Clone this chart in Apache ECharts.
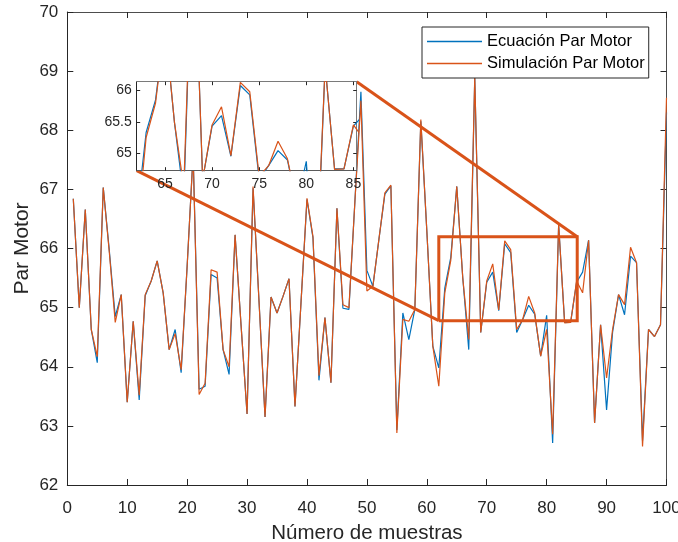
<!DOCTYPE html>
<html>
<head>
<meta charset="utf-8">
<title>Par Motor</title>
<script src="https://cdn.jsdelivr.net/npm/echarts@6/dist/echarts.min.js"></script>
<style>
  html, body { margin: 0; padding: 0; background: #fff; }
  #chart { width: 678px; height: 542px; }
</style>
</head>
<body>
<div id="chart"></div>
<script>
// Torque samples: analytic equation vs. simulation
const ecuacion = [
  66.84, 65.00, 66.66, 64.63, 64.07, 67.03, 65.98, 64.85, 65.22, 63.40,
  64.77, 63.44, 65.20, 65.45, 65.79, 65.25, 64.29, 64.63, 63.90, 65.70,
  67.60, 63.62, 63.67, 65.56, 65.50, 64.29, 63.87, 66.23, 64.70, 63.20,
  67.02, 65.10, 63.15, 65.18, 64.91, 65.19, 65.49, 63.33, 65.08, 66.83,
  66.18, 63.77, 64.83, 63.73, 66.68, 64.99, 64.97, 66.80, 68.65, 65.63,
  65.36, 66.15, 66.92, 67.06, 62.93, 64.91, 64.46, 64.97, 68.15, 66.30,
  64.35, 63.98, 65.33, 65.85, 67.05, 65.50, 64.29, 68.88, 64.58, 65.43,
  65.60, 64.95, 66.08, 65.93, 64.58, 64.80, 65.04, 64.89, 64.18, 64.87,
  62.71, 66.40, 64.75, 64.75, 65.43, 65.60, 66.14, 63.05, 64.71, 63.27,
  64.58, 65.22, 64.88, 65.87, 65.76, 62.75, 64.63, 64.51, 64.71, 68.30
];
const simulacion = [
  66.84, 65.00, 66.66, 64.63, 64.17, 67.03, 65.95, 64.75, 65.22, 63.40,
  64.77, 63.52, 65.22, 65.45, 65.79, 65.25, 64.29, 64.56, 63.95, 65.70,
  67.60, 63.53, 63.72, 65.64, 65.60, 64.29, 64.00, 66.23, 64.70, 63.20,
  67.05, 65.10, 63.15, 65.18, 64.91, 65.19, 65.49, 63.33, 65.08, 66.85,
  66.20, 63.85, 64.83, 63.73, 66.68, 65.05, 65.00, 66.80, 68.50, 65.28,
  65.36, 66.15, 66.94, 67.07, 62.88, 64.80, 64.77, 64.97, 68.18, 66.30,
  64.35, 63.67, 65.25, 65.80, 67.05, 65.50, 64.46, 68.90, 64.58, 65.45,
  65.74, 64.96, 66.13, 65.98, 64.63, 64.80, 65.19, 64.91, 64.18, 64.63,
  62.86, 66.40, 64.74, 64.75, 65.45, 65.25, 66.14, 63.05, 64.71, 63.81,
  64.63, 65.22, 65.05, 66.02, 65.76, 62.65, 64.63, 64.51, 64.71, 68.55
];
const seriesNames = ['Ecuación Par Motor', 'Simulación Par Motor'];

// Main axes range and ticks
const mainX = [0, 100];
const mainXStep = 10;
const mainY = [62, 70];
const mainYStep = 1;

// Detail view range, its tick labels, and the highlighted window
const insetX = [62, 85.35];
const insetY = [64.72, 66.14];
const insetXTicks = [65, 70, 75, 80, 85];
const insetYTicks = [65, 65.5, 66];
const windowX = [62, 85.1];
const windowY = [64.78, 66.2];

const BLUE = '#0072BD';
const ORANGE = '#D95319';
const AXIS = '#262626';
const FONT = '"Liberation Sans", Arial, Helvetica, sans-serif';

const toPairs = arr => arr.map((v, i) => [i + 1, v]);

const chart = echarts.init(document.getElementById('chart'), null, { renderer: 'canvas' });

function mainXAxis(pos, labels) {
  return {
    gridIndex: 0, type: 'value', position: pos,
    min: mainX[0], max: mainX[1], interval: mainXStep,
    axisLine: { onZero: false, lineStyle: { color: pos === 'bottom' ? AXIS : '#4d4d4d', width: 1 } },
    axisTick: { inside: true, length: 6, lineStyle: { color: AXIS } },
    axisLabel: { show: labels, margin: 15, fontSize: 17, color: AXIS, fontFamily: FONT },
    splitLine: { show: false }
  };
}
function mainYAxis(pos, labels) {
  return {
    gridIndex: 0, type: 'value', position: pos,
    min: mainY[0], max: mainY[1], interval: mainYStep,
    axisLine: { onZero: false, lineStyle: { color: pos === 'left' ? AXIS : '#4d4d4d', width: 1 } },
    axisTick: { inside: true, length: 6, lineStyle: { color: AXIS } },
    axisLabel: { show: labels, margin: 9, fontSize: 17, color: AXIS, fontFamily: FONT },
    splitLine: { show: false }
  };
}
function insetXAxis(pos, labels) {
  return {
    gridIndex: 1, type: 'value', position: pos, zlevel: 1,
    min: insetX[0], max: insetX[1],
    axisLine: { onZero: false, lineStyle: { color: pos === 'bottom' ? '#5a5a5a' : '#7a7a7a', width: 1 } },
    axisTick: { inside: true, length: 3.5, customValues: insetXTicks, lineStyle: { color: AXIS } },
    axisLabel: { show: labels, margin: 6, fontSize: 14, color: AXIS, fontFamily: FONT, customValues: insetXTicks },
    splitLine: { show: false }
  };
}
function insetYAxis(pos, labels) {
  return {
    gridIndex: 1, type: 'value', position: pos, zlevel: 1,
    min: insetY[0], max: insetY[1],
    axisLine: { onZero: false, lineStyle: { color: pos === 'left' ? AXIS : '#7a7a7a', width: 1 } },
    axisTick: { inside: true, length: 3.5, customValues: insetYTicks, lineStyle: { color: AXIS } },
    axisLabel: { show: labels, margin: 5, fontSize: 14, color: AXIS, fontFamily: FONT, customValues: insetYTicks },
    splitLine: { show: false }
  };
}

const xMain = mainXAxis('bottom', true);
xMain.name = 'Número de muestras';
xMain.nameLocation = 'middle';
xMain.nameGap = 38;
xMain.nameMoveOverlap = false;
xMain.nameTextStyle = { fontSize: 20.5, color: AXIS, fontFamily: FONT };

const yMain = mainYAxis('left', true);
yMain.name = 'Par Motor';
yMain.nameLocation = 'middle';
yMain.nameGap = 35;
yMain.nameMoveOverlap = false;
yMain.nameTextStyle = { fontSize: 21, color: AXIS, fontFamily: FONT };

function lineSeries(name, data, color, axisIdx, zlevel, z) {
  return {
    name, type: 'line', data: toPairs(data),
    xAxisIndex: axisIdx, yAxisIndex: axisIdx,
    showSymbol: false, symbol: 'none', clip: true,
    lineStyle: { color, width: 1.2 },
    itemStyle: { color },
    zlevel, z, silent: true
  };
}

const option = {
  animation: false,
  backgroundColor: '#fff',
  textStyle: { fontFamily: FONT },
  legend: {
    data: seriesNames,
    orient: 'vertical',
    left: 422, top: 27,
    icon: 'rect',
    itemWidth: 55, itemHeight: 1.3,
    itemGap: 5,
    padding: [6, 4, 6, 5],
    borderColor: AXIS, borderWidth: 1,
    backgroundColor: '#fff',
    textStyle: { fontSize: 16.5, color: '#000', fontFamily: FONT },
    selectedMode: false,
    z: 20
  },
  grid: [
    { left: 67.3, top: 12, width: 599.2, height: 473, outerBoundsMode: 'none' },
    { left: 136.7, top: 81.7, width: 220, height: 89, show: true, backgroundColor: '#fff',
      borderWidth: 0, zlevel: 1, outerBoundsMode: 'none' }
  ],
  xAxis: [xMain, mainXAxis('top', false), insetXAxis('bottom', true), insetXAxis('top', false)],
  yAxis: [yMain, mainYAxis('right', false), insetYAxis('left', true), insetYAxis('right', false)],
  series: [
    lineSeries(seriesNames[0], ecuacion, BLUE, 0, 0, 2),
    lineSeries(seriesNames[1], simulacion, ORANGE, 0, 0, 3),
    {
      type: 'line', xAxisIndex: 0, yAxisIndex: 0,
      data: [
        [windowX[0], windowY[0]], [windowX[1], windowY[0]],
        [windowX[1], windowY[1]], [windowX[0], windowY[1]],
        [windowX[0], windowY[0]]
      ],
      showSymbol: false, symbol: 'none', clip: false, silent: true,
      lineStyle: { color: ORANGE, width: 3, join: 'miter' },
      z: 6
    },
    lineSeries(seriesNames[0], ecuacion, BLUE, 2, 1, 2),
    lineSeries(seriesNames[1], simulacion, ORANGE, 2, 1, 3)
  ]
};

chart.setOption(option);

// Connector lines from the detail view corners to the highlighted window
const insetBL = chart.convertToPixel({ xAxisIndex: 2, yAxisIndex: 2 }, [insetX[0], insetY[0]]);
const insetTR = chart.convertToPixel({ xAxisIndex: 2, yAxisIndex: 2 }, [insetX[1], insetY[1]]);
const winBL = chart.convertToPixel({ xAxisIndex: 0, yAxisIndex: 0 }, [windowX[0], windowY[0]]);
const winTR = chart.convertToPixel({ xAxisIndex: 0, yAxisIndex: 0 }, [windowX[1], windowY[1]]);

chart.setOption({
  graphic: [
    { type: 'line', silent: true, z: 7,
      shape: { x1: insetBL[0], y1: insetBL[1], x2: winBL[0], y2: winBL[1] },
      style: { stroke: ORANGE, lineWidth: 3 } },
    { type: 'line', silent: true, z: 7,
      shape: { x1: insetTR[0], y1: insetTR[1], x2: winTR[0], y2: winTR[1] },
      style: { stroke: ORANGE, lineWidth: 3 } }
  ]
});
</script>
</body>
</html>
